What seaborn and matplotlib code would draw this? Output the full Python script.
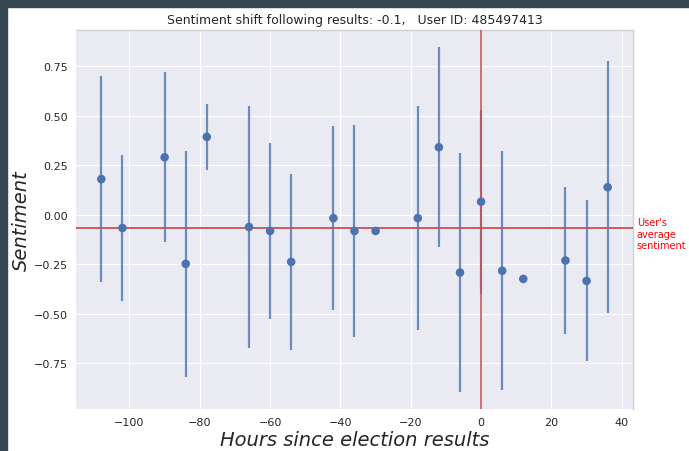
import numpy as np
import pandas as pd
import matplotlib
matplotlib.use("Agg")
import matplotlib.pyplot as plt
import seaborn as sns
from matplotlib.patches import Rectangle

# Hours relative to the election result, mean sentiment and its spread
hours = [-108, -102, -90, -84, -78, -66, -60, -54, -42, -36, -30,
         -18, -12, -6, 0, 6, 12, 24, 30, 36]
sentiment = [0.18, -0.067, 0.29, -0.248, 0.393, -0.062, -0.082, -0.238, -0.017, -0.082, -0.082,
             -0.017, 0.341, -0.292, 0.066, -0.283, -0.324, -0.231, -0.334, 0.139]
spread = [0.52, 0.37, 0.43, 0.572, 0.168, 0.61, 0.446, 0.445, 0.465, 0.535, 0.0,
          0.565, 0.505, 0.602, 0.465, 0.603, 0.0, 0.37, 0.407, 0.635]

user_avg = -0.065
shift = -0.1
user_id = 485497413

df = pd.DataFrame({"hours": hours, "sentiment": sentiment, "spread": spread})

sns.set_style("darkgrid")
fig, ax = plt.subplots(figsize=(6.89, 4.52), dpi=100)
fig.subplots_adjust(left=0.1103, right=0.9187, top=0.9314, bottom=0.0929)

# error bars first, then reference lines, then the dots on top
ax.errorbar(df["hours"], df["sentiment"], yerr=df["spread"], fmt="none",
            ecolor="#4c72b0", elinewidth=1.6, alpha=0.8, zorder=2)
ax.axhline(user_avg, color="#c44e52", lw=1.4, alpha=0.9, zorder=3)
ax.axvline(0, color="#c44e52", lw=1.4, alpha=0.8, zorder=3)
sns.scatterplot(data=df, x="hours", y="sentiment", ax=ax, color="#4c72b0",
                s=38, edgecolor="none", zorder=4)

ax.text(44.3, user_avg - 0.03, "User's\naverage\nsentiment", color="red",
        fontsize=7, va="center", ha="left", clip_on=False, linespacing=1.15)

ax.set_yticks([-0.75, -0.5, -0.25, 0, 0.25, 0.5, 0.75])
ax.set_xticks([-100, -80, -60, -40, -20, 0, 20, 40])
ax.tick_params(labelsize=8, colors="#262626", length=0, pad=6)
ax.set_title(f"Sentiment shift following results: {shift},   User ID: {user_id}",
             fontsize=9, color="#262626", pad=5)
ax.set_xlabel("Hours since election results", fontsize=14, style="italic",
              color="#262626", labelpad=2)
ax.set_ylabel("Sentiment", fontsize=14, style="italic", color="#262626", labelpad=2)

for side in ["top", "right"]:
    ax.spines[side].set_visible(True)
    ax.spines[side].set_color("#cfcfcf")
    ax.spines[side].set_linewidth(1.0)
for side in ["left", "bottom"]:
    ax.spines[side].set_visible(False)

# dark frame strips along the top and left of the screenshot
fig.patches.append(Rectangle((0, 1 - 8 / 452), 1, 8 / 452, transform=fig.transFigure,
                             color="#37474f", zorder=10))
fig.patches.append(Rectangle((0, 0), 7 / 689, 1, transform=fig.transFigure,
                             color="#37474f", zorder=10))

fig.savefig("out.png", dpi=100)
